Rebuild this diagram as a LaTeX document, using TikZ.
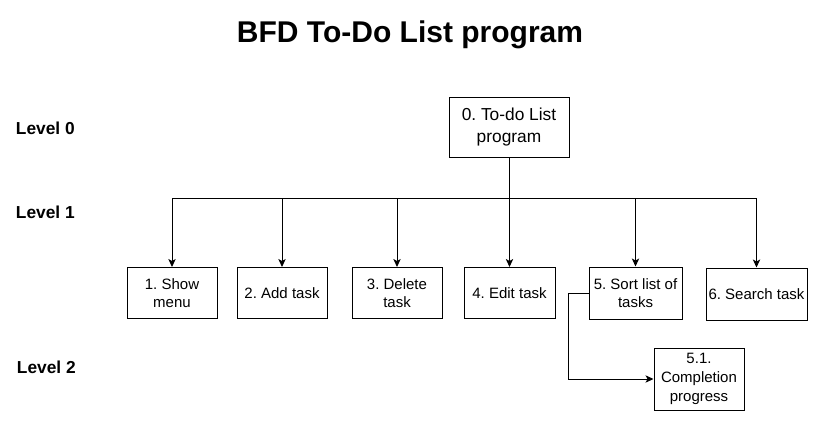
\documentclass[tikz,border=0pt]{standalone}
\usepackage{fontspec}
\setmainfont{Liberation Sans}
\usepackage{tikz}
\usepackage{xcolor}
\usetikzlibrary{arrows.meta, positioning}
\frenchspacing

\begin{document}
\begin{tikzpicture}[
  x=0.75pt, y=-0.75pt,
  line width=0.75pt,
  taskbox/.style={
    draw=black,
    fill=white,
    minimum width=67.5pt,
    minimum height=38.25pt,
    align=center,
    inner xsep=1pt,
    inner ysep=2pt,
    font=\fontsize{11.25}{14}\selectfont,
  },
  levellabel/.style={
    anchor=west,
    font=\fontsize{13}{15}\selectfont\bfseries,
  },
  link/.style={
    -{Stealth[length=6pt, width=5.5pt, inset=1.5pt]},
  }
]
  \useasboundingbox (0,0) rectangle (817,421);

  % === Title ===
  \node[font=\fontsize{22.5}{26}\selectfont\bfseries] (title) at (410,35) {BFD To-Do List program};

  % === Level labels ===
  \node[levellabel] (lvl-0) at (11,128) {Level 0};
  \node[levellabel] (lvl-1) at (11,212) {Level 1};
  \node[levellabel] (lvl-2) at (12,367) {Level 2};

  % Level 0
  \node[taskbox, minimum width=90pt, minimum height=45pt,
        font=\fontsize{13}{16.5}\selectfont] (root) at (509,127) {0. To-do List\\ program};

  % Level 1
  \node[taskbox] (task-1) at (172,293) {1. Show\\ menu};
  \node[taskbox] (task-2) at (282,293) {2. Add task};
  \node[taskbox] (task-3) at (397,293) {3. Delete\\ task};
  \node[taskbox, minimum width=68.25pt] (task-4) at (509.5,293) {4. Edit task};
  \node[taskbox, minimum width=69.75pt, minimum height=39pt] (task-5) at (635.5,293) {5. Sort list of\\ tasks};
  \node[taskbox, minimum width=75.75pt, minimum height=39pt] (task-6) at (756.5,294) {6. Search task};

  % Level 2
  \node[taskbox, minimum height=46.5pt] (task-51) at (699,379) {5.1.\\ Completion\\ progress};

  % Bus between level 0 and level 1
  \coordinate (bus) at (0,198);
  \draw (root.south) -- (root.south |- bus);
  \draw (task-1.north |- bus) -- (task-6.north |- bus);
  \foreach \t in {task-1, task-2, task-3, task-4, task-5, task-6}
    \draw[link] (\t.north |- bus) -- (\t.north);

  % 5 -> 5.1
  \draw[link] (task-5.west) -- ++(-20,0) |- (task-51.west);

\end{tikzpicture}
\end{document}
